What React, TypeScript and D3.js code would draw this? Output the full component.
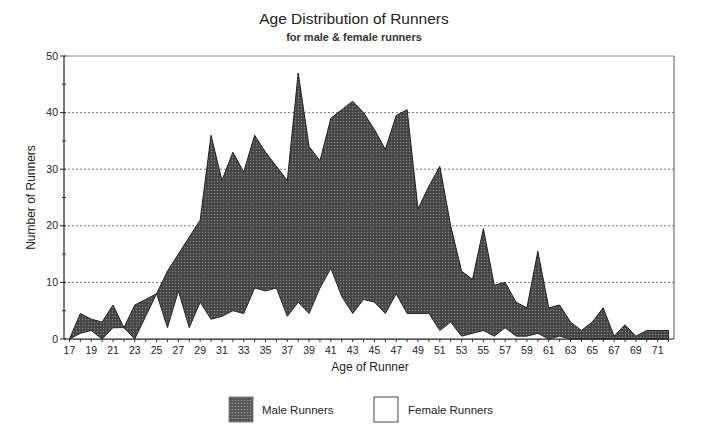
import React from "react";
import * as d3 from "d3";

const ages: number[] = [17,18,19,20,21,22,23,24,25,26,27,28,29,30,31,32,33,34,35,36,37,38,39,40,41,42,43,44,45,46,47,48,49,50,51,52,53,54,55,56,57,58,59,60,61,62,63,64,65,66,67,68,69,70,71,72];

const maleRunners: number[] = [0,4.5,3.5,3,6,2,6,7,8,12,15,18,21,36,28,33,29.5,36,33,30.5,28,47,34,31.5,39,40.5,42,40,37,33.5,39.5,40.5,23,27,30.5,20,12,10.5,19.5,9.5,10,6.5,5.5,15.5,5.5,6,3,1.5,3,5.5,0.5,2.5,0.5,1.5,1.5,1.5];

const femaleRunners: number[] = [0,1,1.5,0,2,2,0,4,8,2,8.5,2,6.5,3.5,4,5,4.5,9,8.5,9,4,6.5,4.5,9,12.5,7.5,4.5,7,6.5,4.5,8,4.5,4.5,4.5,1.5,3,0.5,1,1.5,0.5,2,0.5,0.5,1,0,0.5,0,0,0,0,0,0,0,0,0,0];

const yTicks: number[] = [0, 10, 20, 30, 40, 50];
const yMinorTicks: number[] = [5, 15, 25, 35, 45];
const xLabelAges: number[] = ages.filter((a) => a % 2 === 1);

const title = "Age Distribution of Runners";
const subtitle = "for male & female runners";
const yTitle = "Number of Runners";
const xTitle = "Age of Runner";
const legendLabels = ["Male Runners", "Female Runners"];

export default function App() {
  const W = 709, H = 434;
  const left = 64, right = 674, top = 56, bottom = 339;
  const font = "'Liberation Sans', Arial, sans-serif";

  const x = d3.scalePoint<number>().domain(ages).range([left, right]).padding(0.5);
  const y = d3.scaleLinear().domain([0, 50]).range([bottom, top]);

  const maleArea = d3.area<number>()
    .x((_, i) => x(ages[i]) as number)
    .y0(y(0))
    .y1((d) => y(d))(maleRunners) as string;
  const femaleArea = d3.area<number>()
    .x((_, i) => x(ages[i]) as number)
    .y0(y(0))
    .y1((d) => y(d))(femaleRunners) as string;
  const femaleLine = d3.line<number>()
    .x((_, i) => x(ages[i]) as number)
    .y((d) => y(d))(femaleRunners) as string;

  return (
    <svg width={W} height={H} style={{ position: "absolute", left: 0, top: 0, background: "#fff" }}>
      <defs>
        <pattern id="stipple" width="3" height="3" patternUnits="userSpaceOnUse">
          <rect width="3" height="3" fill="#444" />
          <circle cx="1.5" cy="1.5" r="0.75" fill="#858585" />
        </pattern>
        <pattern id="stippleLegend" width="3" height="3" patternUnits="userSpaceOnUse">
          <rect width="3" height="3" fill="#555" />
          <circle cx="1.5" cy="1.5" r="0.8" fill="#9a9a9a" />
        </pattern>
      </defs>

      <text x={354} y={24} textAnchor="middle" fontFamily={font} fontSize={15.5} fill="#222">{title}</text>
      <text x={354} y={41} textAnchor="middle" fontFamily={font} fontSize={11} fontWeight="bold" fill="#333">{subtitle}</text>

      {/* gridlines */}
      {yTicks.filter((t) => t > 0 && t < 50).map((t) => (
        <line key={"g" + t} x1={left} x2={right} y1={y(t)} y2={y(t)} stroke="#777" strokeWidth={1} strokeDasharray="2,2" />
      ))}
      {/* top and right border */}
      <line x1={left} x2={right} y1={y(50)} y2={y(50)} stroke="#888" strokeWidth={1} />
      <line x1={right} x2={right} y1={y(50)} y2={y(0)} stroke="#555" strokeWidth={1} />

      {/* areas */}
      <path d={maleArea} fill="url(#stipple)" stroke="#1e1e1e" strokeWidth={1} strokeLinejoin="round" />
      <path d={femaleArea} fill="#fff" stroke="none" />
      <path d={femaleLine} fill="none" stroke="#262626" strokeWidth={1} strokeLinejoin="round" />

      {/* y axis */}
      <line x1={left} x2={left} y1={y(50)} y2={y(0)} stroke="#222" strokeWidth={1.2} />
      {yTicks.map((t) => (
        <g key={"y" + t}>
          <line x1={left - 4} x2={left + 2} y1={y(t)} y2={y(t)} stroke="#222" strokeWidth={1} />
          <text x={left - 6} y={y(t)} dy="0.35em" textAnchor="end" fontFamily={font} fontSize={10.5} fill="#222">{t}</text>
        </g>
      ))}
      {yMinorTicks.map((t) => (
        <line key={"ym" + t} x1={left - 2} x2={left + 2} y1={y(t)} y2={y(t)} stroke="#333" strokeWidth={1} />
      ))}
      <text transform={`translate(35, ${(top + bottom) / 2}) rotate(-90)`} textAnchor="middle" fontFamily={font} fontSize={12} fill="#222">{yTitle}</text>

      {/* x axis */}
      <line x1={left} x2={right} y1={y(0)} y2={y(0)} stroke="#222" strokeWidth={1.2} />
      {ages.map((a) => (
        <line key={"xt" + a} x1={x(a) as number} x2={x(a) as number} y1={y(0)} y2={y(0) + 3} stroke="#333" strokeWidth={1} />
      ))}
      {xLabelAges.map((a) => (
        <text key={"xl" + a} x={x(a) as number} y={y(0) + 15} textAnchor="middle" fontFamily={font} fontSize={10.5} fill="#222">{a}</text>
      ))}
      <text x={370} y={371} textAnchor="middle" fontFamily={font} fontSize={12} fill="#222">{xTitle}</text>

      {/* legend */}
      <rect x={229} y={397} width={24} height={25} fill="url(#stippleLegend)" stroke="#666" strokeWidth={0.8} />
      <text x={262} y={410} dy="0.35em" fontFamily={font} fontSize={11.5} fill="#222">{legendLabels[0]}</text>
      <rect x={374} y={397} width={24} height={25} fill="#fff" stroke="#444" strokeWidth={1} />
      <text x={408} y={410} dy="0.35em" fontFamily={font} fontSize={11.5} fill="#222">{legendLabels[1]}</text>
    </svg>
  );
}
